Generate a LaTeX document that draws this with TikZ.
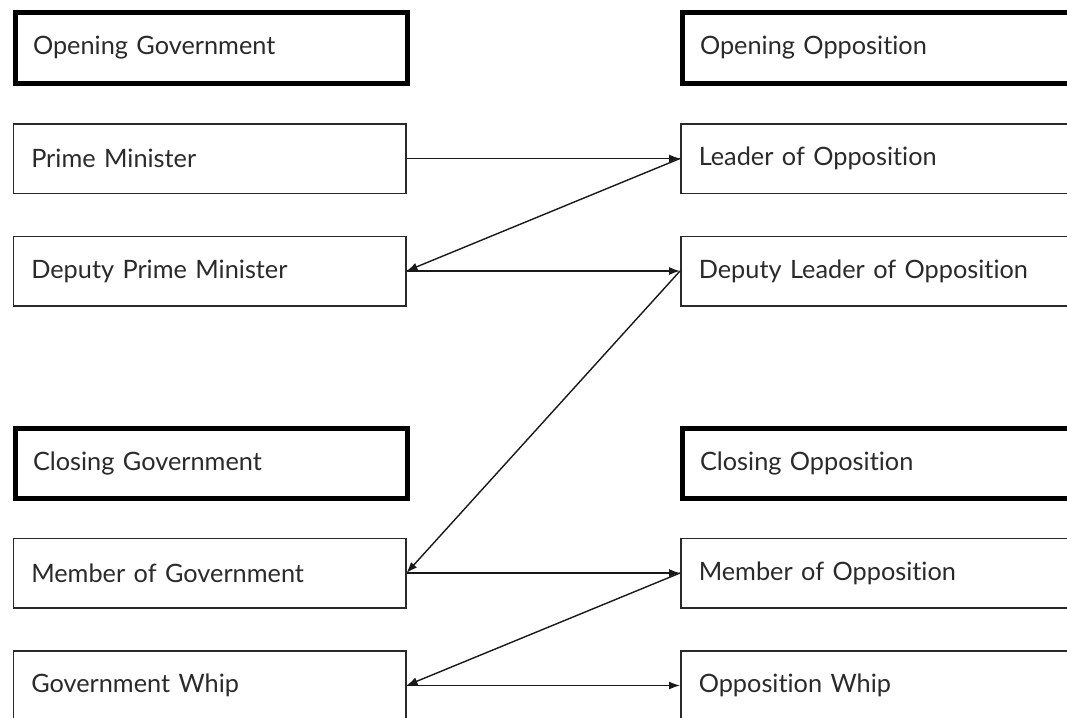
\documentclass[tikz,border=0pt]{standalone}
\usepackage{fontspec}
\setmainfont{Lato}[Ligatures={NoCommon,NoRare,NoContextual}]
\usetikzlibrary{arrows.meta}
\definecolor{txt}{HTML}{2A2A2A}
\definecolor{edge}{HTML}{2A2A2A}
\begin{document}
\begin{tikzpicture}[x=1pt,y=-1pt,
  base/.style={rectangle, anchor=north west, align=left, inner xsep=18pt, inner ysep=0pt,
    text=txt, font=\fontsize{25.3}{29}\selectfont},
  lbox/.style={base, draw=edge, line width=1.5pt, minimum height=69.5pt, text width=356.5pt},
  rbox/.style={base, draw=edge, line width=1.5pt, minimum height=69.5pt, text width=384pt},
  lhead/.style={base, draw=black, line width=5pt, minimum height=70pt, text width=356pt},
  rhead/.style={base, draw=black, line width=5pt, minimum height=70pt, text width=384pt},
  conn/.style={draw=black!90, line width=1.4pt, -{Latex[length=11pt,width=8pt]}}]
\path[use as bounding box, clip] (0,0) rectangle (1067,717);
% headers
\node[lhead] (og) at (12.5,10.5) {Opening Government};
\node[rhead] (oo) at (679.5,10.5) {Opening Opposition};
\node[lhead] (cg) at (12.5,425.5) {Closing Government};
\node[rhead] (co) at (679.5,425.5) {Closing Opposition};
% speakers
\node[lbox] (pm)  at (12.5,123) {Prime Minister};
\node[lbox] (dpm) at (12.5,235.5) {Deputy Prime Minister};
\node[lbox] (mg)  at (12.5,537.5) {Member of Government};
\node[lbox] (gw)  at (12.5,650) {Government Whip};
\node[rbox] (lo)  at (680,123) {Leader of Opposition};
\node[rbox] (dlo) at (680,235.5) {Deputy Leader of Opposition};
\node[rbox] (mo)  at (680,537.5) {Member of Opposition};
\node[rbox] (ow)  at (680,650) {Opposition Whip};
% connectors
\draw[conn] (pm.east) -- (lo.west);
\draw[conn] (lo.west) -- (dpm.east);
\draw[conn] (dpm.east) -- (dlo.west);
\draw[conn] (dlo.west) -- (mg.east);
\draw[conn] (mg.east) -- (mo.west);
\draw[conn] (mo.west) -- (gw.east);
\draw[conn] (gw.east) -- (ow.west);
\end{tikzpicture}
\end{document}
